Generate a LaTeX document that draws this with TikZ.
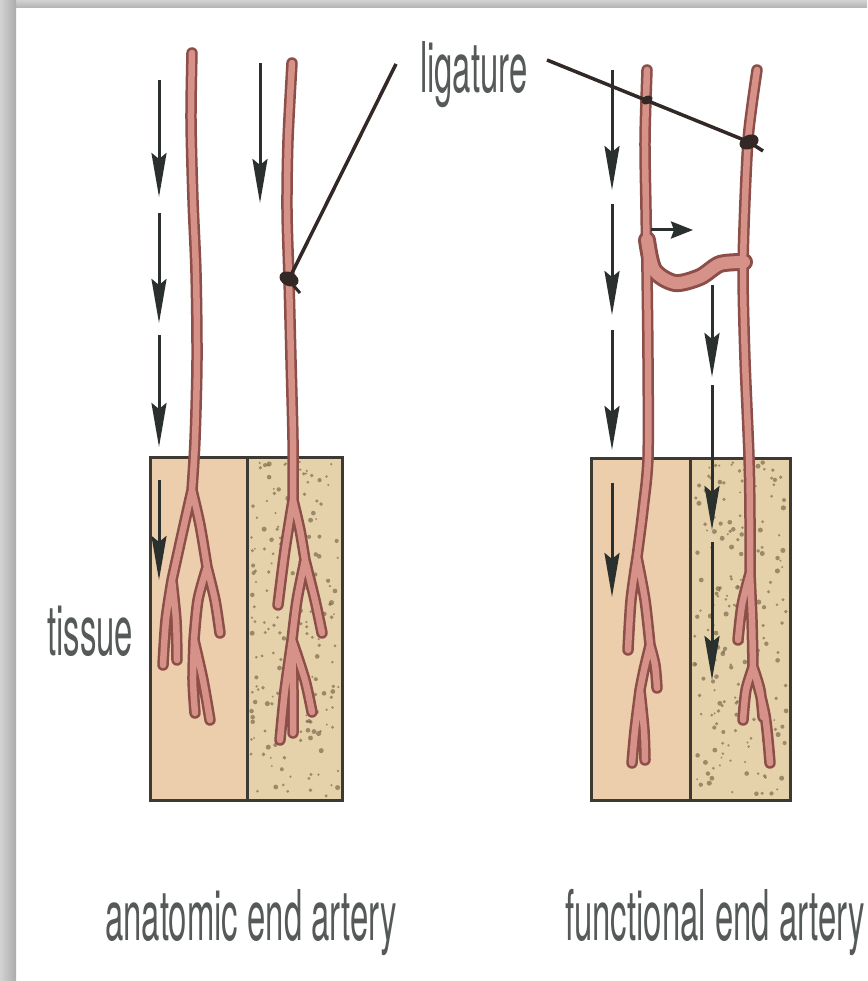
\documentclass[tikz,border=0pt]{standalone}
\usepackage{fontspec}
\setmainfont{TeX Gyre Heros}[FakeStretch=0.47]
\usetikzlibrary{arrows.meta}

\definecolor{vesselEdge}{RGB}{140,78,72}
\definecolor{vesselFill}{RGB}{214,146,136}
\definecolor{arrowCol}{RGB}{42,48,46}
\definecolor{tissueA}{RGB}{236,205,172}
\definecolor{tissueB}{RGB}{230,210,170}
\definecolor{speck}{RGB}{115,98,70}
\definecolor{boxEdge}{RGB}{60,58,50}
\definecolor{labelGray}{RGB}{85,90,88}
\definecolor{knotCol}{RGB}{50,40,38}

% vessel centre lines: trunks and branches of the four arteries
\newcommand\vesselpaths{%
  % anatomic end artery, open
  plot[smooth] coordinates {(192,53) (191,120) (193,200) (196,273) (197,360) (195,440) (192,490)}
  plot[smooth] coordinates {(192,490) (183,530) (172,580)}
  plot[smooth] coordinates {(172,580) (166,620) (163,665)}
  plot[smooth] coordinates {(172,580) (176,620) (177,660)}
  plot[smooth] coordinates {(192,490) (200,525) (207,567)}
  plot[smooth] coordinates {(207,567) (215,600) (220,633)}
  plot[smooth] coordinates {(207,567) (198,600) (194,640)}
  plot[smooth] coordinates {(194,640) (193,680) (195,713)}
  plot[smooth] coordinates {(194,640) (203,680) (210,720)}
  % anatomic end artery, ligated
  plot[smooth] coordinates {(292,63) (288,140) (287,210) (289,280) (291,360) (293,440) (293,500)}
  plot[smooth] coordinates {(293,500) (285,550) (278,605)}
  plot[smooth] coordinates {(293,500) (300,530) (305,560)}
  plot[smooth] coordinates {(305,560) (315,600) (322,633)}
  plot[smooth] coordinates {(305,560) (297,600) (292,640)}
  plot[smooth] coordinates {(292,640) (285,690) (280,740)}
  plot[smooth] coordinates {(292,640) (293,690) (293,733)}
  plot[smooth] coordinates {(292,640) (305,680) (312,712)}
  % functional end artery, left
  plot[smooth] coordinates {(647,70) (645,140) (646,210) (647,273) (648,360) (648,457) (643,510) (637,557)}
  plot[smooth] coordinates {(637,557) (631,600) (628,650)}
  plot[smooth] coordinates {(637,557) (645,600) (650,645)}
  plot[smooth] coordinates {(650,645) (655,665) (657,688)}
  plot[smooth] coordinates {(650,645) (644,670) (640,690)}
  plot[smooth] coordinates {(640,690) (635,730) (632,763)}
  plot[smooth] coordinates {(640,690) (644,730) (645,760)}
  % functional end artery, right
  plot[smooth] coordinates {(757,70) (752,105) (748,140) (745,200) (743,273) (745,360) (749,457) (750,520) (750,573)}
  plot[smooth] coordinates {(750,573) (742,605) (738,640)}
  plot[smooth] coordinates {(750,573) (752,620) (753,667)}
  plot[smooth] coordinates {(753,667) (746,690) (743,720)}
  plot[smooth] coordinates {(753,667) (760,690) (763,717)}
  plot[smooth] coordinates {(753,667) (765,715) (770,763)}
}
% anastomosis between the two functional end arteries
\newcommand\collateralpath{%
  plot[smooth] coordinates {(647,240) (654,270) (675,283) (700,277) (720,264) (744,262)}
}

\begin{document}
\begin{tikzpicture}[x=1pt,y=-1pt,
  vout/.style={draw=vesselEdge,line width=11.5pt,line cap=round,line join=round},
  vin/.style={draw=vesselFill,line width=6.5pt,line cap=round,line join=round},
  flow/.style={draw=arrowCol,line width=3pt,
    -{Stealth[length=44pt,width=15pt,inset=6pt]}},
  shortflow/.style={draw=arrowCol,line width=3pt,
    -{Stealth[length=22pt,width=17pt,inset=3pt]}},
  ligline/.style={draw=knotCol,line width=3.5pt},
  knot/.style={fill=knotCol},
  tissuebox/.style={draw=boxEdge,line width=3pt},
  lbl/.style={text=labelGray,inner sep=0pt,anchor=base west,
    font=\fontsize{70}{72}\selectfont}]

\useasboundingbox (0,0) rectangle (867,981);
\fill[white] (0,0) rectangle (867,981);

% frame shadow along the top and left edges
\shade[top color=gray!35,bottom color=gray!60] (0,0) rectangle (867,8);
\shade[left color=gray!35,right color=gray!65] (0,0) rectangle (16,981);

% tissue blocks
\fill[tissueA] (150,457) rectangle (247,800);
\fill[tissueB] (247,457) rectangle (342,800);
\fill[tissueA] (591,458) rectangle (690,800);
\fill[tissueB] (690,458) rectangle (790,800);

% speckled tissue
\pgfmathsetseed{11}
\foreach \i in {1,...,200}{
  \pgfmathsetmacro\xx{251+rnd*88}
  \pgfmathsetmacro\yy{462+rnd*334}
  \pgfmathsetmacro\rr{1+rnd*1.6}
  \fill[speck,opacity=0.65] (\xx,\yy) circle[radius=\rr pt];
}
\foreach \i in {1,...,200}{
  \pgfmathsetmacro\xx{694+rnd*93}
  \pgfmathsetmacro\yy{462+rnd*334}
  \pgfmathsetmacro\rr{1+rnd*1.6}
  \fill[speck,opacity=0.65] (\xx,\yy) circle[radius=\rr pt];
}

\draw[tissuebox] (150,457) rectangle (342,800);
\draw[tissuebox] (247,457) -- (247,800);
\draw[tissuebox] (591,458) rectangle (790,800);
\draw[tissuebox] (690,458) -- (690,800);

% blood vessels: dark wall first, lumen on top
\draw[vout] \vesselpaths;
\draw[vout,line width=18pt] \collateralpath;
\draw[vin] \vesselpaths;
\draw[vin,line width=12pt] \collateralpath;

% labels
\node[lbl] (lig) at (420,93) {ligature};
\node[lbl] (tis) at (47,655) {tissue};
\node[lbl] (ana) at (105,940) {anatomic end artery};
\node[lbl] (fun) at (565,940) {functional end artery};

% ligatures
\coordinate (knotA) at (289,279);
\coordinate (knotB) at (749,142);
\coordinate (crossB) at (647,100);
\coordinate (ligA) at (396,64);
\coordinate (ligB) at (547,60);
\draw[ligline] (ligA) -- (knotA);
\draw[ligline] (ligB) -- (knotB) -- ++(14,9);
\fill[knot,rotate around={-25:(knotA)}] (knotA) ellipse[x radius=10, y radius=7];
\draw[ligline,line width=3pt] (knotA) ++(-3,-2) -- ++(14,16);
\fill[knot,rotate around={25:(knotB)}] (knotB) ellipse[x radius=10, y radius=7];
\fill[knot,rotate around={25:(crossB)}] (crossB) ellipse[x radius=6, y radius=4];

% blood flow
\draw[flow] (159,80) -- (159,197);
\draw[flow] (159,213) -- (159,323);
\draw[flow] (159,335) -- (159,447);
\draw[flow] (159,480) -- (159,580);
\draw[flow] (260,63) -- (260,203);

\draw[flow] (612,70) -- (612,190);
\draw[flow] (612,204) -- (612,315);
\draw[flow] (612,330) -- (612,450);
\draw[flow] (612,483) -- (612,597);

\draw[shortflow] (651,230) -- (693,230);
\draw[flow] (712,285) -- (712,377);
\draw[flow] (712,385) -- (712,530);
\draw[flow] (712,542) -- (712,680);
\end{tikzpicture}
\end{document}
